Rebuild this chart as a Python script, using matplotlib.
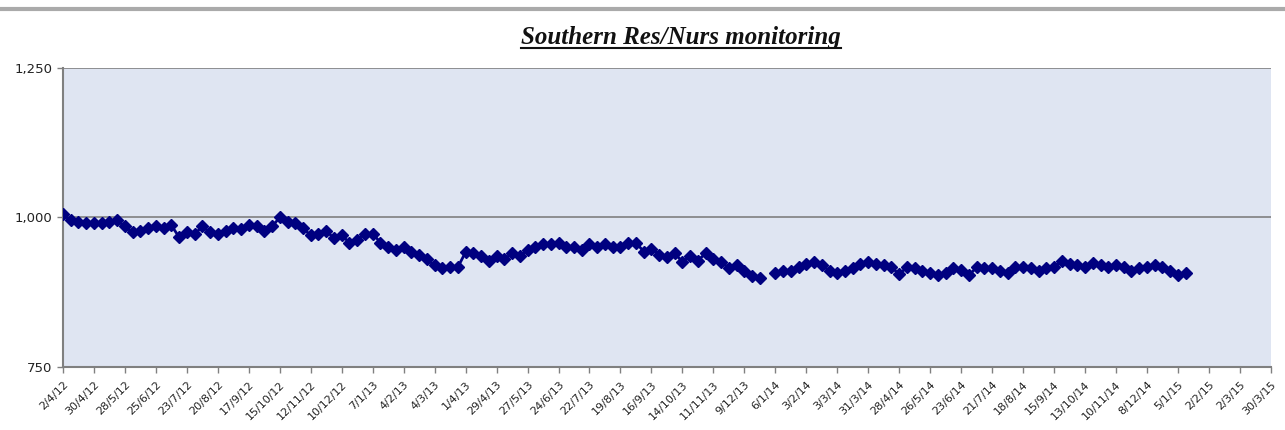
import numpy as np
import pandas as pd
import matplotlib
matplotlib.use("Agg")
import matplotlib.pyplot as plt
from matplotlib.lines import Line2D
from matplotlib.ticker import FuncFormatter

start_date = "2012-04-02"
# weekly readings, NaN = missing week over Christmas 2013
values = [
    1005, 995, 993, 990, 990, 990, 992, 995, 985, 975,
    977, 983, 986, 982, 987, 967, 975, 972, 985, 975,
    972, 978, 983, 981, 987, 985, 978, 985, 1000, 992,
    990, 982, 970, 973, 978, 965, 970, 958, 963, 973,
    973, 958, 950, 945, 950, 942, 938, 930, 920, 916,
    917, 917, 942, 940, 935, 928, 936, 930, 940, 935,
    946, 950, 955, 956, 958, 950, 950, 946, 956, 950,
    956, 950, 950, 957, 958, 943, 948, 938, 934, 940,
    926, 935, 928, 940, 931, 925, 916, 920, 911, 902,
    898, np.nan, 908, 911, 911, 917, 923, 925, 920, 911,
    908, 911, 915, 923, 925, 923, 920, 917, 905, 917,
    915, 911, 908, 903, 908, 915, 912, 903, 917, 915,
    915, 911, 908, 917, 918, 915, 911, 915, 917, 927,
    922, 920, 917, 924, 920, 917, 920, 917, 911, 915,
    917, 920, 917, 911, 903, 908,
]
tick_start = "2012-04-02"
tick_end = "2015-03-30"
y_ticks = [750, 1000, 1250]

dates = pd.date_range(start_date, periods=len(values), freq="7D")
ticks = pd.date_range(tick_start, tick_end, freq="28D")

fig = plt.figure(figsize=(12.85, 4.3), dpi=100)
ax = fig.add_axes([0.049, 0.1465, 0.94, 0.6955])
ax.set_facecolor("#dfe5f2")

ax.plot(dates, values, color="#000080", lw=2, marker="D", ms=6.5,
        mec="#000080", mfc="#000080", zorder=3)

ax.set_xlim(ticks[0], ticks[-1])
ax.set_ylim(750, 1250)
ax.set_yticks(y_ticks)
ax.yaxis.set_major_formatter(FuncFormatter(lambda v, p: f"{int(v):,}"))
ax.set_xticks(ticks)
ax.set_xticklabels([f"{d.day}/{d.month}/{d.strftime('%y')}" for d in ticks],
                   rotation=45, ha="right", rotation_mode="anchor",
                   fontsize=8, color="#222222")
ax.tick_params(axis="y", labelsize=9.5, colors="#222222", length=4, width=1,
               color="#808080")
ax.tick_params(axis="x", length=4, width=1, color="#808080", pad=5)

ax.grid(axis="y", color="#808080", lw=1.2)
ax.set_axisbelow(True)
for side in ["top", "right"]:
    ax.spines[side].set_visible(False)
for side in ["left", "bottom"]:
    ax.spines[side].set_color("#808080")
    ax.spines[side].set_linewidth(1.5)

# grey rule along the very top
fig.add_artist(Line2D([0.0, 1.0], [0.98, 0.98], transform=fig.transFigure,
                      color="#aaaaaa", lw=3))

title = fig.text(0.53, 0.912, "Southern Res/Nurs monitoring", ha="center",
                 va="center", fontsize=18, fontweight="bold", style="italic",
                 family="Liberation Serif", color="#111111")
fig.canvas.draw()
bb = title.get_window_extent().transformed(fig.transFigure.inverted())
fig.add_artist(Line2D([bb.x0, bb.x1], [bb.y0 + 0.002, bb.y0 + 0.002],
                      transform=fig.transFigure, color="#111111", lw=1.5))

fig.savefig("out.png", dpi=100)
